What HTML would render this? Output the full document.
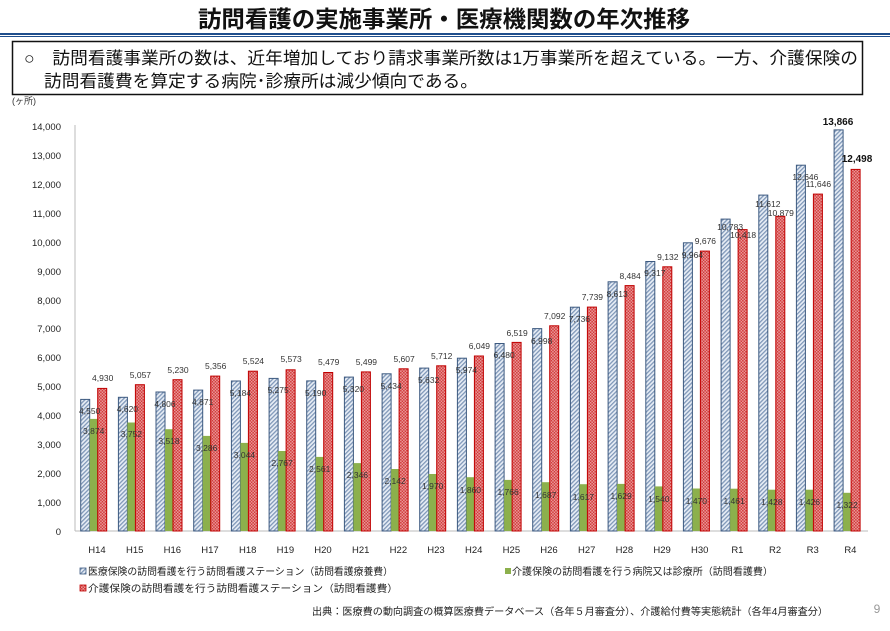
<!DOCTYPE html>
<html><head><meta charset="utf-8"><style>
body{margin:0;background:#fff;width:890px;height:626px;overflow:hidden;font-family:"Liberation Sans","Noto Sans CJK JP",sans-serif}
</style></head><body>
<svg width="890" height="626" xmlns="http://www.w3.org/2000/svg" font-family="Liberation Sans, Noto Sans CJK JP, sans-serif">
<defs>
<pattern id="pb" width="3" height="3" patternUnits="userSpaceOnUse" patternTransform="rotate(45)"><rect width="3" height="3" fill="#e8eef6"/><rect width="1.3" height="3" fill="#7f97b8"/></pattern>
<pattern id="pr" width="3" height="3" patternUnits="userSpaceOnUse"><rect width="3" height="3" fill="#e99a9a"/><rect width="1.5" height="1.5" fill="#d23a3a"/><rect x="1.5" y="1.5" width="1.5" height="1.5" fill="#d23a3a"/></pattern>
</defs>
<text x="198" y="27" textLength="492" lengthAdjust="spacingAndGlyphs" font-size="23" font-weight="bold" fill="#111">訪問看護の実施事業所・医療機関数の年次推移</text>
<rect x="0" y="33" width="890" height="2" fill="#1f4e8c"/><rect x="0" y="36" width="890" height="1" fill="#1f4e8c"/>
<rect x="12.5" y="41.5" width="850" height="53" fill="#fff" stroke="#111" stroke-width="1.5"/>
<text x="24" y="64" font-size="17" textLength="834" lengthAdjust="spacingAndGlyphs" fill="#111">○　訪問看護事業所の数は、近年増加しており請求事業所数は1万事業所を超えている。一方、介護保険の</text>
<text x="44" y="87" font-size="17" textLength="434" lengthAdjust="spacingAndGlyphs" fill="#111">訪問看護費を算定する病院･診療所は減少傾向である。</text>
<text x="12" y="104" font-size="9" fill="#333">(ヶ所)</text>
<g font-size="9.5" fill="#222" text-anchor="end">
<text x="61" y="535">0</text><text x="61" y="506">1,000</text><text x="61" y="477">2,000</text><text x="61" y="448">3,000</text><text x="61" y="419">4,000</text><text x="61" y="390">5,000</text><text x="61" y="361">6,000</text><text x="61" y="332">7,000</text><text x="61" y="304">8,000</text><text x="61" y="275">9,000</text><text x="61" y="246">10,000</text><text x="61" y="217">11,000</text><text x="61" y="188">12,000</text><text x="61" y="159">13,000</text><text x="61" y="130">14,000</text>
</g>
<line x1="75" y1="125" x2="75" y2="531" stroke="#bbb"/>
<line x1="75" y1="531" x2="868" y2="531" stroke="#bbb"/>
<g stroke-width="1">
<g transform="translate(80.7,0)"><rect x="0" y="399.4" width="9" height="131.6" fill="url(#pb)" stroke="#3d5a80"/><rect x="9" y="418.9" width="8" height="112.1" fill="#8cb04c"/><rect x="17" y="388.4" width="9" height="142.6" fill="url(#pr)" stroke="#c00000"/></g>
<g transform="translate(118.4,0)"><rect x="0" y="397.3" width="9" height="133.7" fill="url(#pb)" stroke="#3d5a80"/><rect x="9" y="422.5" width="8" height="108.5" fill="#8cb04c"/><rect x="17" y="384.7" width="9" height="146.3" fill="url(#pr)" stroke="#c00000"/></g>
<g transform="translate(156,0)"><rect x="0" y="392" width="9" height="139" fill="url(#pb)" stroke="#3d5a80"/><rect x="9" y="429.2" width="8" height="101.8" fill="#8cb04c"/><rect x="17" y="379.7" width="9" height="151.3" fill="url(#pr)" stroke="#c00000"/></g>
<g transform="translate(193.7,0)"><rect x="0" y="390.1" width="9" height="140.9" fill="url(#pb)" stroke="#3d5a80"/><rect x="9" y="435.9" width="8" height="95.1" fill="#8cb04c"/><rect x="17" y="376.1" width="9" height="154.9" fill="url(#pr)" stroke="#c00000"/></g>
<g transform="translate(231.4,0)"><rect x="0" y="381" width="9" height="150" fill="url(#pb)" stroke="#3d5a80"/><rect x="9" y="442.9" width="8" height="88.1" fill="#8cb04c"/><rect x="17" y="371.2" width="9" height="159.8" fill="url(#pr)" stroke="#c00000"/></g>
<g transform="translate(269.1,0)"><rect x="0" y="378.4" width="9" height="152.6" fill="url(#pb)" stroke="#3d5a80"/><rect x="9" y="451" width="8" height="80" fill="#8cb04c"/><rect x="17" y="369.8" width="9" height="161.2" fill="url(#pr)" stroke="#c00000"/></g>
<g transform="translate(306.7,0)"><rect x="0" y="380.9" width="9" height="150.1" fill="url(#pb)" stroke="#3d5a80"/><rect x="9" y="456.9" width="8" height="74.1" fill="#8cb04c"/><rect x="17" y="372.5" width="9" height="158.5" fill="url(#pr)" stroke="#c00000"/></g>
<g transform="translate(344.4,0)"><rect x="0" y="377.1" width="9" height="153.9" fill="url(#pb)" stroke="#3d5a80"/><rect x="9" y="463.1" width="8" height="67.9" fill="#8cb04c"/><rect x="17" y="371.9" width="9" height="159.1" fill="url(#pr)" stroke="#c00000"/></g>
<g transform="translate(382.1,0)"><rect x="0" y="373.8" width="9" height="157.2" fill="url(#pb)" stroke="#3d5a80"/><rect x="9" y="469" width="8" height="62" fill="#8cb04c"/><rect x="17" y="368.8" width="9" height="162.2" fill="url(#pr)" stroke="#c00000"/></g>
<g transform="translate(419.7,0)"><rect x="0" y="368.1" width="9" height="162.9" fill="url(#pb)" stroke="#3d5a80"/><rect x="9" y="474" width="8" height="57" fill="#8cb04c"/><rect x="17" y="365.8" width="9" height="165.2" fill="url(#pr)" stroke="#c00000"/></g>
<g transform="translate(457.4,0)"><rect x="0" y="358.2" width="9" height="172.8" fill="url(#pb)" stroke="#3d5a80"/><rect x="9" y="477.2" width="8" height="53.8" fill="#8cb04c"/><rect x="17" y="356" width="9" height="175" fill="url(#pr)" stroke="#c00000"/></g>
<g transform="translate(495.1,0)"><rect x="0" y="343.5" width="9" height="187.5" fill="url(#pb)" stroke="#3d5a80"/><rect x="9" y="479.9" width="8" height="51.1" fill="#8cb04c"/><rect x="17" y="342.4" width="9" height="188.6" fill="url(#pr)" stroke="#c00000"/></g>
<g transform="translate(532.7,0)"><rect x="0" y="328.6" width="9" height="202.4" fill="url(#pb)" stroke="#3d5a80"/><rect x="9" y="482.2" width="8" height="48.8" fill="#8cb04c"/><rect x="17" y="325.8" width="9" height="205.2" fill="url(#pr)" stroke="#c00000"/></g>
<g transform="translate(570.4,0)"><rect x="0" y="307.2" width="9" height="223.8" fill="url(#pb)" stroke="#3d5a80"/><rect x="9" y="484.2" width="8" height="46.8" fill="#8cb04c"/><rect x="17" y="307.1" width="9" height="223.9" fill="url(#pr)" stroke="#c00000"/></g>
<g transform="translate(608.1,0)"><rect x="0" y="281.8" width="9" height="249.2" fill="url(#pb)" stroke="#3d5a80"/><rect x="9" y="483.9" width="8" height="47.1" fill="#8cb04c"/><rect x="17" y="285.6" width="9" height="245.4" fill="url(#pr)" stroke="#c00000"/></g>
<g transform="translate(645.8,0)"><rect x="0" y="261.5" width="9" height="269.5" fill="url(#pb)" stroke="#3d5a80"/><rect x="9" y="486.4" width="8" height="44.6" fill="#8cb04c"/><rect x="17" y="266.8" width="9" height="264.2" fill="url(#pr)" stroke="#c00000"/></g>
<g transform="translate(683.4,0)"><rect x="0" y="242.8" width="9" height="288.2" fill="url(#pb)" stroke="#3d5a80"/><rect x="9" y="488.5" width="8" height="42.5" fill="#8cb04c"/><rect x="17" y="251.1" width="9" height="279.9" fill="url(#pr)" stroke="#c00000"/></g>
<g transform="translate(721.1,0)"><rect x="0" y="219.1" width="9" height="311.9" fill="url(#pb)" stroke="#3d5a80"/><rect x="9" y="488.7" width="8" height="42.3" fill="#8cb04c"/><rect x="17" y="229.6" width="9" height="301.4" fill="url(#pr)" stroke="#c00000"/></g>
<g transform="translate(758.8,0)"><rect x="0" y="195.1" width="9" height="335.9" fill="url(#pb)" stroke="#3d5a80"/><rect x="9" y="489.7" width="8" height="41.3" fill="#8cb04c"/><rect x="17" y="216.3" width="9" height="314.7" fill="url(#pr)" stroke="#c00000"/></g>
<g transform="translate(796.4,0)"><rect x="0" y="165.2" width="9" height="365.8" fill="url(#pb)" stroke="#3d5a80"/><rect x="9" y="489.7" width="8" height="41.3" fill="#8cb04c"/><rect x="17" y="194.1" width="9" height="336.9" fill="url(#pr)" stroke="#c00000"/></g>
<g transform="translate(834.1,0)"><rect x="0" y="129.9" width="9" height="401.1" fill="url(#pb)" stroke="#3d5a80"/><rect x="9" y="492.8" width="8" height="38.2" fill="#8cb04c"/><rect x="17" y="169.4" width="9" height="361.6" fill="url(#pr)" stroke="#c00000"/></g>
</g>
<g font-size="8.5" fill="#333" text-anchor="middle">
<text x="89.7" y="414">4,550</text><text x="127.4" y="412">4,620</text><text x="165" y="407">4,806</text><text x="202.7" y="405">4,871</text><text x="240.4" y="396">5,184</text><text x="278.1" y="393">5,275</text><text x="315.7" y="396">5,190</text><text x="353.4" y="392">5,320</text><text x="391.1" y="389">5,434</text><text x="428.7" y="383">5,632</text><text x="466.4" y="373">5,974</text><text x="504.1" y="358">6,480</text><text x="541.7" y="344">6,998</text><text x="579.4" y="322">7,736</text><text x="617.1" y="297">8,613</text><text x="654.8" y="276">9,317</text><text x="692.4" y="258">9,964</text><text x="730.1" y="230">10,783</text><text x="767.8" y="207">11,612</text><text x="805.4" y="180">12,646</text>
<text x="93.7" y="434">3,874</text><text x="131.4" y="437">3,752</text><text x="169" y="444">3,518</text><text x="206.7" y="451">3,286</text><text x="244.4" y="458">3,044</text><text x="282.1" y="466">2,767</text><text x="319.7" y="472">2,561</text><text x="357.4" y="478">2,346</text><text x="395.1" y="484">2,142</text><text x="432.7" y="489">1,970</text><text x="470.4" y="493">1,860</text><text x="508.1" y="495">1,766</text><text x="545.7" y="498">1,687</text><text x="583.4" y="500">1,617</text><text x="621.1" y="499">1,629</text><text x="658.8" y="502">1,540</text><text x="696.4" y="504">1,470</text><text x="734.1" y="504">1,461</text><text x="771.8" y="505">1,428</text><text x="809.4" y="505">1,426</text><text x="847.1" y="508">1,322</text>
<text x="102.7" y="381">4,930</text><text x="140.4" y="378">5,057</text><text x="178" y="373">5,230</text><text x="215.7" y="369">5,356</text><text x="253.4" y="364">5,524</text><text x="291.1" y="362">5,573</text><text x="328.7" y="365">5,479</text><text x="366.4" y="365">5,499</text><text x="404.1" y="362">5,607</text><text x="441.7" y="359">5,712</text><text x="479.4" y="349">6,049</text><text x="517.1" y="336">6,519</text><text x="554.7" y="319">7,092</text><text x="592.4" y="300">7,739</text><text x="630.1" y="279">8,484</text><text x="667.8" y="260">9,132</text><text x="705.4" y="244">9,676</text><text x="743.1" y="238">10,418</text><text x="780.8" y="216">10,879</text><text x="818.4" y="187">11,646</text>
</g>
<text x="838" y="125" font-size="10" font-weight="bold" text-anchor="middle" fill="#111">13,866</text>
<text x="857" y="162" font-size="10" font-weight="bold" text-anchor="middle" fill="#111">12,498</text>
<g font-size="9.5" fill="#222" text-anchor="middle">
<text x="97" y="553">H14</text><text x="134.7" y="553">H15</text><text x="172.3" y="553">H16</text><text x="210" y="553">H17</text><text x="247.7" y="553">H18</text><text x="285.4" y="553">H19</text><text x="323" y="553">H20</text><text x="360.7" y="553">H21</text><text x="398.4" y="553">H22</text><text x="436" y="553">H23</text><text x="473.7" y="553">H24</text><text x="511.4" y="553">H25</text><text x="549" y="553">H26</text><text x="586.7" y="553">H27</text><text x="624.4" y="553">H28</text><text x="662.1" y="553">H29</text><text x="699.7" y="553">H30</text><text x="737.4" y="553">R1</text><text x="775.1" y="553">R2</text><text x="812.7" y="553">R3</text><text x="850.4" y="553">R4</text>
</g>
<g font-size="10" fill="#222">
<rect x="80" y="568" width="6" height="6" fill="url(#pb)" stroke="#3d5a80" stroke-width="0.8"/><text x="88" y="575" textLength="305" lengthAdjust="spacingAndGlyphs">医療保険の訪問看護を行う訪問看護ステーション（訪問看護療養費）</text>
<rect x="505" y="568" width="6" height="6" fill="#8cb04c"/><text x="512" y="575" textLength="261" lengthAdjust="spacingAndGlyphs">介護保険の訪問看護を行う病院又は診療所（訪問看護費）</text>
<rect x="80" y="585" width="6" height="6" fill="url(#pr)" stroke="#c00000" stroke-width="0.8"/><text x="88" y="592" textLength="310" lengthAdjust="spacingAndGlyphs">介護保険の訪問看護を行う訪問看護ステーション（訪問看護費）</text>
<text x="312" y="615" textLength="516" lengthAdjust="spacingAndGlyphs">出典：医療費の動向調査の概算医療費データベース（各年５月審査分）、介護給付費等実態統計（各年4月審査分）</text>
</g>
<text x="877" y="613" font-size="12" fill="#999" text-anchor="middle">9</text>
</svg>
</body></html>
